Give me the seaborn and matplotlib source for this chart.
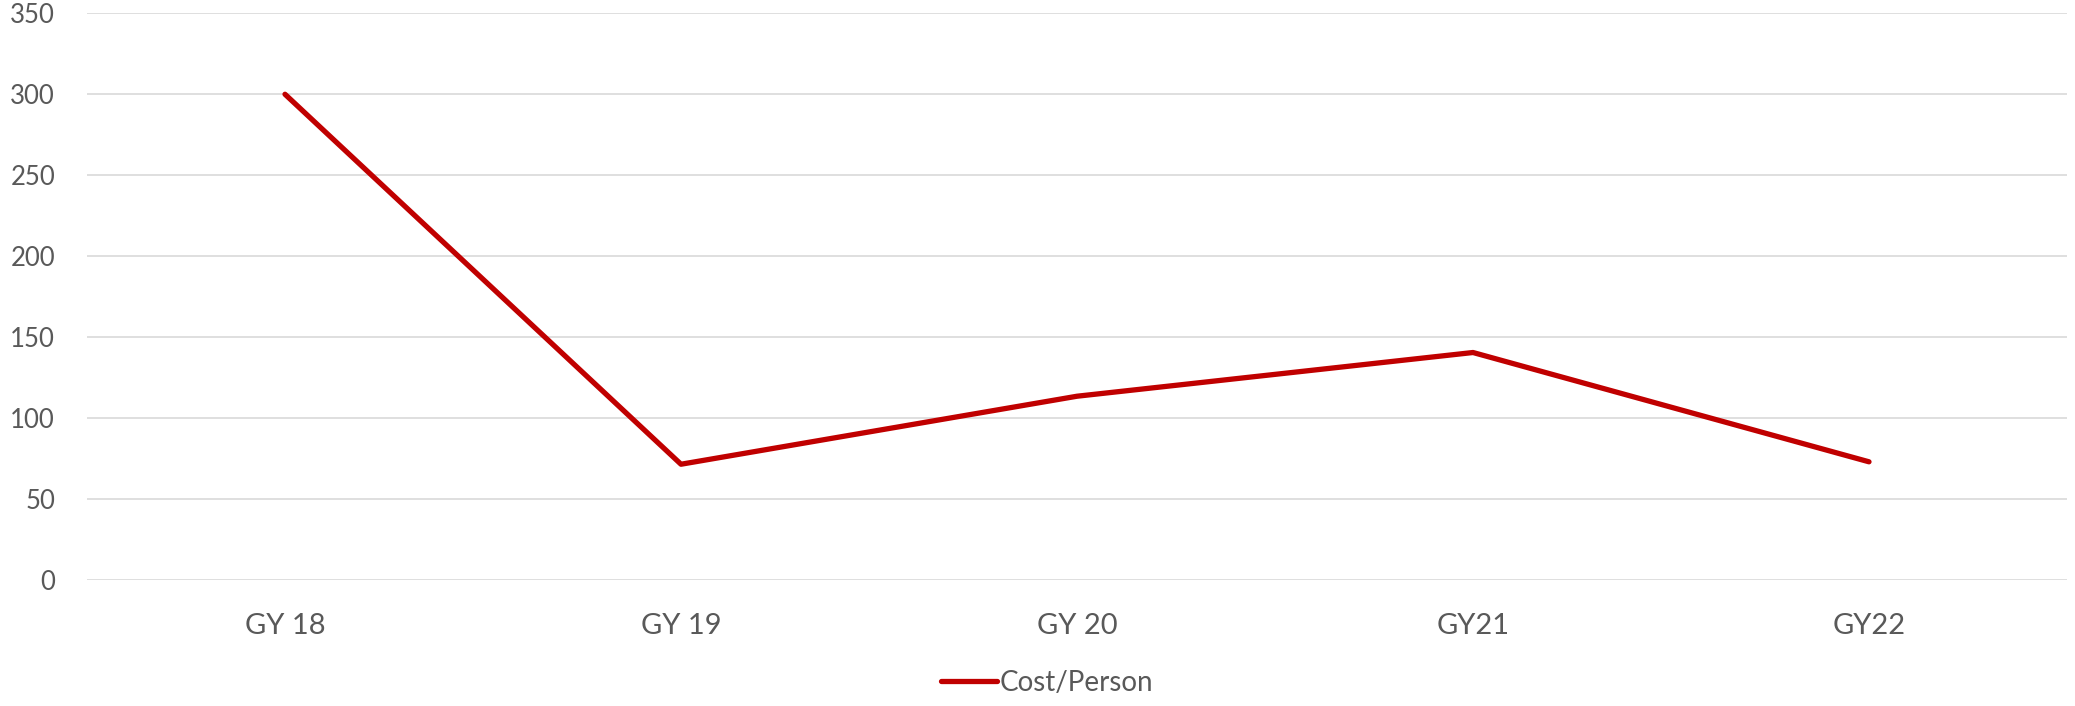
import matplotlib
matplotlib.use("Agg")
import matplotlib.pyplot as plt
import seaborn as sns
import pandas as pd

categories = ["GY 18", "GY 19", "GY 20", "GY21", "GY22"]
cost_per_person = [300, 71.5, 113.5, 140.5, 73]
series_name = "Cost/Person"
y_ticks = [0, 50, 100, 150, 200, 250, 300, 350]

sns.set_theme(style="white")
plt.rcParams["font.family"] = ["Lato", "DejaVu Sans"]

TEXT = "#595959"
RED = "#C00000"
GRID = "#D9D9D9"

df = pd.DataFrame({"Year": categories, series_name: cost_per_person})

fig = plt.figure(figsize=(20.75, 7.06), dpi=100)
ax = fig.add_axes([87/2075, 1 - 580/706, (2067 - 87)/2075, (580 - 13.3)/706])

sns.lineplot(data=df, x="Year", y=series_name, ax=ax, color=RED, linewidth=3.8,
             label=series_name, sort=False, solid_capstyle="round")

ax.set_xlim(-0.5, len(categories) - 0.5)
ax.set_ylim(0, 350)
ax.set_yticks(y_ticks)
ax.set_yticklabels([str(v) for v in y_ticks])
ax.set_xticks(range(len(categories)))
ax.set_xticklabels(categories)
ax.set_xlabel("")
ax.set_ylabel("")

for s in ax.spines.values():
    s.set_visible(False)
ax.grid(axis="y", color=GRID, linewidth=1.2)
ax.grid(axis="x", visible=False)
ax.set_axisbelow(True)
ax.tick_params(axis="y", length=0, pad=23, labelsize=18.5, labelcolor=TEXT)
ax.tick_params(axis="x", length=0, pad=24, labelsize=21, labelcolor=TEXT)

ax.legend_.remove()
handles, labels = ax.get_legend_handles_labels()
leg = fig.legend(handles, labels, loc="center", bbox_to_anchor=(1047/2075, 1 - 683/706),
                 frameon=False, fontsize=20, handlelength=2.0, handletextpad=0.1,
                 labelcolor=TEXT)
for h in leg.get_lines():
    h.set_solid_capstyle("round")

fig.savefig("out.png", dpi=100)
